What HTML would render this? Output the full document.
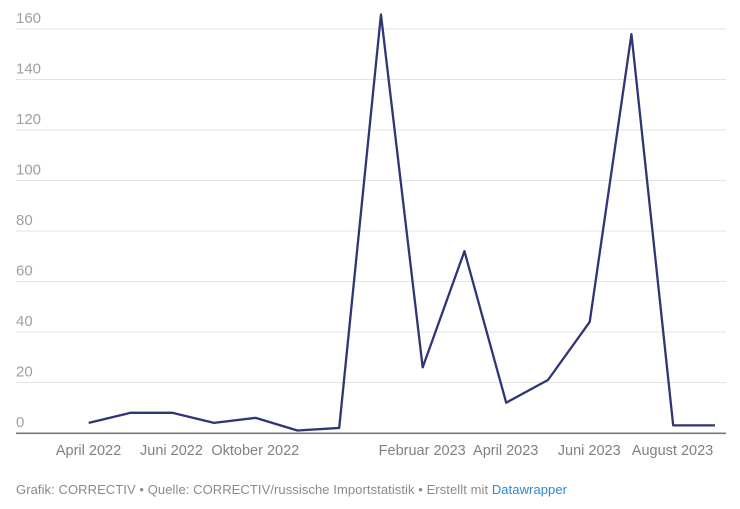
<!DOCTYPE html>
<html>
<head>
<meta charset="utf-8">
<style>
  html, body { margin: 0; padding: 0; background: #ffffff; }
  body { width: 740px; height: 509px; overflow: hidden; }
  svg { display: block; }
  text { font-family: "Liberation Sans", Arial, sans-serif; }
</style>
</head>
<body>
<svg width="740" height="509" viewBox="0 0 740 509" xmlns="http://www.w3.org/2000/svg">
  <!-- gridlines -->
  <g stroke="#e3e3e3" stroke-width="1">
    <line x1="16" y1="29" x2="726" y2="29"/>
    <line x1="16" y1="79.5" x2="726" y2="79.5"/>
    <line x1="16" y1="130" x2="726" y2="130"/>
    <line x1="16" y1="180.5" x2="726" y2="180.5"/>
    <line x1="16" y1="231" x2="726" y2="231"/>
    <line x1="16" y1="281.5" x2="726" y2="281.5"/>
    <line x1="16" y1="332" x2="726" y2="332"/>
    <line x1="16" y1="382.5" x2="726" y2="382.5"/>
  </g>
  <!-- y labels -->
  <g fill="#a0a0a0" font-size="15">
    <text x="16" y="23">160</text>
    <text x="16" y="73.5">140</text>
    <text x="16" y="124">120</text>
    <text x="16" y="174.5">100</text>
    <text x="16" y="225">80</text>
    <text x="16" y="275.5">60</text>
    <text x="16" y="326">40</text>
    <text x="16" y="376.5">20</text>
    <text x="16" y="427">0</text>
  </g>
  <!-- axis -->
  <line x1="16" y1="433.3" x2="726" y2="433.3" stroke="#7a7a7a" stroke-width="1.6"/>
  <!-- series -->
  <polyline fill="none" stroke="#2f3575" stroke-width="2.3" stroke-linejoin="round" stroke-linecap="butt"
    points="88.7,422.9 130.45,412.8 172.2,412.8 213.95,422.9 255.7,417.85 297.45,430.5 339.2,427.95 380.95,14.5 422.7,367.35 464.45,251.2 506.2,402.7 547.95,380 589.7,321.9 631.45,34.2 673.2,425.4 714.95,425.4"/>
  <!-- x labels -->
  <g fill="#808080" font-size="14.5" text-anchor="middle">
    <text x="88.5" y="455">April 2022</text>
    <text x="171.5" y="455">Juni 2022</text>
    <text x="255.3" y="455">Oktober 2022</text>
    <text x="422.2" y="455">Februar 2023</text>
    <text x="505.7" y="455">April 2023</text>
    <text x="589.2" y="455">Juni 2023</text>
    <text x="672.5" y="455">August 2023</text>
  </g>
  <!-- footer -->
  <text x="16" y="494" font-size="13" fill="#8a8a8a" textLength="551" lengthAdjust="spacing">Grafik: CORRECTIV • Quelle: CORRECTIV/russische Importstatistik • Erstellt mit <tspan fill="#2b8ad0">Datawrapper</tspan></text>
</svg>
</body>
</html>
